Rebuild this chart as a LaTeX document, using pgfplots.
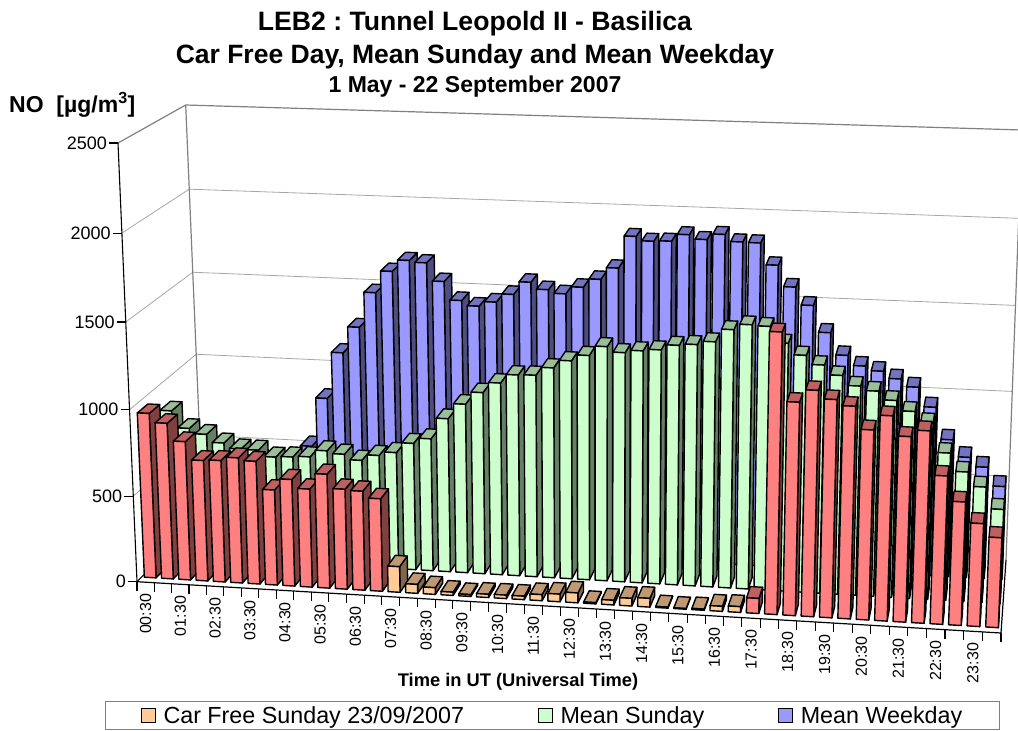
\documentclass[border=0pt]{standalone}
\usepackage{fontspec}
\setmainfont{Liberation Sans}
\usepackage{pgfplots}
\usepackage{pgfplotstable}
\pgfplotsset{compat=1.18}
\frenchspacing

\definecolor{redf}{HTML}{FF8080}\definecolor{redt}{HTML}{BF6060}\definecolor{reds}{HTML}{804040}
\definecolor{orgf}{HTML}{FFCC99}\definecolor{orgt}{HTML}{BF9973}\definecolor{orgs}{HTML}{80664D}
\definecolor{grnf}{HTML}{CCFFCC}\definecolor{grnt}{HTML}{99BF99}\definecolor{grns}{HTML}{668066}
\definecolor{bluf}{HTML}{9999FF}\definecolor{blut}{HTML}{7373BF}\definecolor{blus}{HTML}{4D4D80}
\definecolor{wallc}{HTML}{A6A6A6}\definecolor{edgec}{HTML}{808080}

% half-hourly NO values, slot 0 = 00:30
\pgfplotstableread{
slot value
0 960
1 908
2 807
3 703
4 708
5 729
6 714
7 554
8 620
9 570
10 661
11 580
12 574
13 536
14 149
15 52
16 39
17 19
18 11
19 19
20 20
21 20
22 35
23 44
24 57
25 7
26 27
27 44
28 50
29 6
30 4
31 7
32 29
33 33
34 86
35 1581
36 1199
37 1269
38 1223
39 1191
40 1065
41 1148
42 1038
43 1075
44 831
45 692
46 577
47 504
}\carfree
\pgfplotstableread{
slot value
0 866
1 767
2 737
3 691
4 661
5 659
6 623
7 629
8 635
9 676
10 661
11 630
12 664
13 686
14 745
15 777
16 899
17 988
18 1060
19 1120
20 1171
21 1174
22 1221
23 1266
24 1301
25 1356
26 1326
27 1341
28 1351
29 1381
30 1390
31 1410
32 1483
33 1515
34 1510
35 1420
36 1356
37 1306
38 1252
39 1197
40 1173
41 1125
42 1068
43 1008
44 843
45 741
46 661
47 539
}\meansunday
\pgfplotstableread{
slot value
0 513
1 472
2 442
3 432
4 442
5 452
6 442
7 573
8 866
9 1143
10 1299
11 1507
12 1636
13 1704
14 1694
15 1589
16 1482
17 1453
18 1481
19 1530
20 1605
21 1566
22 1546
23 1588
24 1638
25 1707
26 1893
27 1869
28 1873
29 1914
30 1890
31 1923
32 1884
33 1882
34 1759
35 1638
36 1537
37 1385
38 1259
39 1202
40 1177
41 1137
42 1094
43 983
44 800
45 703
46 651
47 544
}\meanweekday

% slot, depth (0 front, 1 back), value -> page position, by the eight box corners
\newcommand\proj[4]{%
  \pgfmathsetmacro\rr{#1/48}%
  \pgfmathsetmacro\tt{.96*\rr+.04*\rr*\rr}%
  \pgfmathsetmacro\dd{#2}%
  \pgfmathsetmacro\vv{#3/2500}%
  \pgfmathsetmacro\vv{.967*\vv+.033*\vv*\vv}%
  \expandafter\pgfmathsetmacro\csname x#4\endcsname{(1-\tt)*((1-\dd)*((1-\vv)*137+\vv*118)+\dd*((1-\vv)*203+\vv*185.7))+\tt*((1-\dd)*((1-\vv)*1001+\vv*1019)+\dd*((1-\vv)*1006+\vv*1022))}%
  \expandafter\pgfmathsetmacro\csname y#4\endcsname{(1-\tt)*((1-\dd)*((1-\vv)*581.7+\vv*143)+\dd*((1-\vv)*515+\vv*105))+\tt*((1-\dd)*((1-\vv)*633+\vv*173)+\dd*((1-\vv)*560+\vv*130))}%
}
\newcommand\face[5]{% colour and four named points
  \edef\temp{\noexpand\addplot[forget plot,fill=#1,draw=black,line width=1.4pt,line join=round]
    coordinates {(\csname x#2\endcsname,\csname y#2\endcsname)(\csname x#3\endcsname,\csname y#3\endcsname)(\csname x#4\endcsname,\csname y#4\endcsname)(\csname x#5\endcsname,\csname y#5\endcsname)} --cycle;}\temp
}
\newcommand\seg[2]{% colour, width; from point A to point B
  \edef\temp{\noexpand\addplot[forget plot,draw=#1,line width=#2] coordinates {(\xA,\yA)(\xB,\yB)};}\temp
}
\newcommand\drawrow[4]{% table, front depth, back depth, colour base
  \foreach \i in {0,...,47}{%
    \pgfplotstablegetelem{\i}{value}\of{#1}\let\val\pgfplotsretval
    \def\col{#4}%
    \ifnum\i>13 \ifnum\i<34 \ifx\col\redname \def\col{org}\fi\fi\fi
    \pgfmathsetmacro\sa{\i+.16}\pgfmathsetmacro\sb{\i+.84}%
    \proj{\sa}{#2}{0}{A}\proj{\sb}{#2}{0}{B}\proj{\sb}{#3}{0}{C}%
    \proj{\sa}{#2}{\val}{E}\proj{\sb}{#2}{\val}{F}\proj{\sb}{#3}{\val}{G}\proj{\sa}{#3}{\val}{H}%
    \face{\col s}{B}{C}{G}{F}%
    \face{\col t}{E}{F}{G}{H}%
    \face{\col f}{A}{B}{F}{E}%
  }%
}
\def\redname{red}

\begin{document}
\begin{tikzpicture}
\path[use as bounding box] (0,0) rectangle (1018pt,731pt);
\begin{axis}[
  scale only axis, width=1018pt, height=731pt,
  xmin=0, xmax=1018, ymin=0, ymax=731, y dir=reverse,
  hide axis,
  legend columns=3,
  legend cell align=left,
  legend image code/.code={\draw[#1] (0pt,-7pt) rectangle (14pt,7pt);},
  legend style={at={(axis cs:105,701)},anchor=north west,draw=edgec,line width=1pt,
    font=\fontsize{23.3}{27}\selectfont,inner xsep=35pt,inner ysep=3pt,
    /tikz/every odd column/.style={column sep=6pt},
    /tikz/every even column/.style={column sep=71.5pt}},
]
% walls
\foreach \v in {500,1000,1500,2000}{
  \proj{48}{1}{\v}{A}\proj{0}{1}{\v}{B}\seg{wallc}{0.8pt}
  \proj{0}{0}{\v}{A}\seg{wallc}{0.8pt}
}
\proj{48}{1}{2500}{A}\proj{0}{1}{2500}{B}\seg{edgec}{1.2pt}
\proj{0}{0}{2500}{A}\seg{edgec}{1.2pt}
\proj{0}{1}{0}{A}\proj{0}{1}{2500}{B}\seg{edgec}{1.2pt}
\proj{48}{1}{0}{A}\proj{48}{1}{2500}{B}\seg{edgec}{1.2pt}
\proj{0}{0}{0}{A}\proj{0}{1}{0}{B}\seg{black}{1pt}
\proj{48}{0}{0}{A}\proj{48}{1}{0}{B}\seg{black}{1.2pt}

% bars, back row first
\drawrow{\meanweekday}{.73}{.89}{blu}
\drawrow{\meansunday}{.40}{.56}{grn}
\drawrow{\carfree}{.07}{.23}{red}

% vertical axis
\proj{0}{0}{0}{A}\proj{0}{0}{2500}{B}\seg{black}{1.1pt}
\foreach \v in {0,500,...,2500}{
  \proj{0}{0}{\v}{A}
  \pgfmathsetmacro\xT{\xA-9}
  \edef\temp{\noexpand\addplot[forget plot,draw=black,line width=1.1pt] coordinates {(\xT,\yA)(\xA,\yA)};
    \noexpand\node[anchor=east,inner sep=0pt,font=\noexpand\fontsize{18}{20}\noexpand\selectfont] at (axis cs:\xT-2,\yA) {\v};}\temp
}
% horizontal axis
\proj{0}{0}{0}{A}\proj{48}{0}{0}{B}\seg{black}{1.2pt}
\foreach \s in {0,...,48}{
  \proj{\s}{0}{0}{A}
  \pgfmathsetmacro\yT{\yA+9}
  \edef\temp{\noexpand\addplot[forget plot,draw=black,line width=1.1pt] coordinates {(\xA,\yA)(\xA,\yT)};}\temp
}
\foreach \lab [count=\n from 0] in {00:30,01:30,02:30,03:30,04:30,05:30,06:30,07:30,08:30,09:30,10:30,11:30,12:30,13:30,14:30,15:30,16:30,17:30,18:30,19:30,20:30,21:30,22:30,23:30}{
  \pgfmathsetmacro\sc{2*\n+.5}
  \proj{\sc}{0}{0}{A}
  \pgfmathsetmacro\yT{\yA+11.5}
  \edef\temp{\noexpand\node[rotate=90,anchor=east,inner sep=0pt,font=\noexpand\fontsize{16}{18}\noexpand\selectfont] at (axis cs:\xA,\yT) {\lab};}\temp
}

% titles
\node[font=\bfseries\fontsize{26.6}{28}\selectfont] at (axis cs:475,23.5) {LEB2 : Tunnel Leopold II - Basilica};
\node[font=\bfseries\fontsize{26.5}{28}\selectfont] at (axis cs:475,56.5) {Car Free Day, Mean Sunday and Mean Weekday};
\node[font=\bfseries\fontsize{23}{25}\selectfont] at (axis cs:475,87) {1 May - 22 September 2007};
\node[anchor=west,inner sep=0pt,font=\bfseries\fontsize{23}{25}\selectfont] at (axis cs:9,104.5) {NO\ \ [µg/m\textsuperscript{3}]};
\node[font=\bfseries\fontsize{18.3}{20}\selectfont] at (axis cs:518,682) {Time in UT (Universal Time)};

\addlegendimage{draw=black,fill=orgf}
\addlegendentry{Car Free Sunday 23/09/2007}
\addlegendimage{draw=black,fill=grnf}
\addlegendentry{Mean Sunday}
\addlegendimage{draw=black,fill=bluf}
\addlegendentry{Mean Weekday}
\end{axis}
\end{tikzpicture}
\end{document}
